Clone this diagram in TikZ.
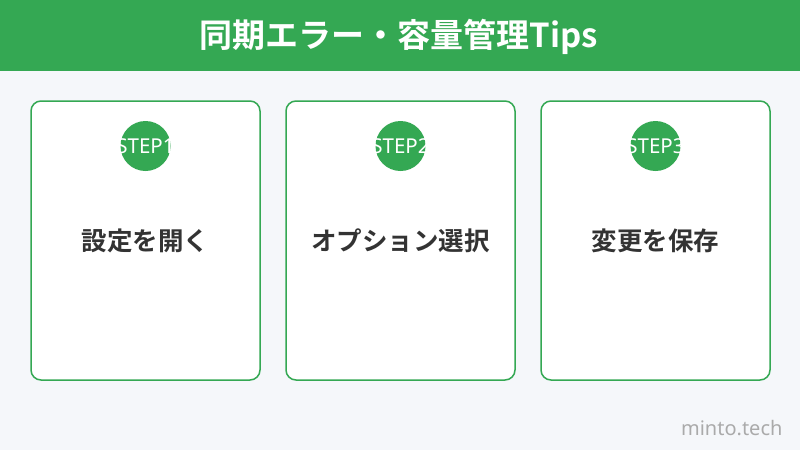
\documentclass[tikz,border=0pt]{standalone}
\usepackage{fontspec}
\newfontfamily\cjk{Noto Sans CJK JP}[BoldFont={* Bold}]
\newfontfamily\latinsans{Noto Sans}
\definecolor{brand}{HTML}{34A853}
\definecolor{bgc}{HTML}{F5F7FA}
\definecolor{txt}{HTML}{333333}
\definecolor{mark}{HTML}{AAAAAA}
\tikzset{
  card/.style={draw=brand, line width=1.5pt, fill=white, rounded corners=10pt},
  badge/.style={circle, fill=brand, minimum size=50pt, inner sep=0pt},
  badgetext/.style={text=white, font=\latinsans\fontsize{20.5}{20.5}\selectfont},
  cardtext/.style={text=txt, font=\cjk\bfseries\fontsize{25.5}{25.5}\selectfont},
}
\begin{document}
\begin{tikzpicture}[x=1pt,y=-1pt]
\useasboundingbox (0,0) rectangle (800,450);
\fill[bgc] (0,0) rectangle (800,450);
\fill[brand] (0,0) rectangle (800,71);
\node[text=white, font=\cjk\bfseries\fontsize{33}{33}\selectfont] (title) at (399,37) {同期エラー・容量管理Tips};
\foreach \i/\cx/\lab in {1/145.5/設定を開く, 2/400.5/オプション選択, 3/655.5/変更を保存} {
  \draw[card] (\cx-114.5,101) rectangle (\cx+114.5,380);
  \node[badge] (b\i) at (\cx,146) {};
  \node[badgetext] (s\i) at (\cx,146) {STEP\i};
  \node[cardtext] (t\i) at (\cx,241) {\lab};
}
\node[text=mark, font=\latinsans\fontsize{20}{20}\selectfont, anchor=east] (wm) at (786,428) {minto.tech};
\end{tikzpicture}
\end{document}
